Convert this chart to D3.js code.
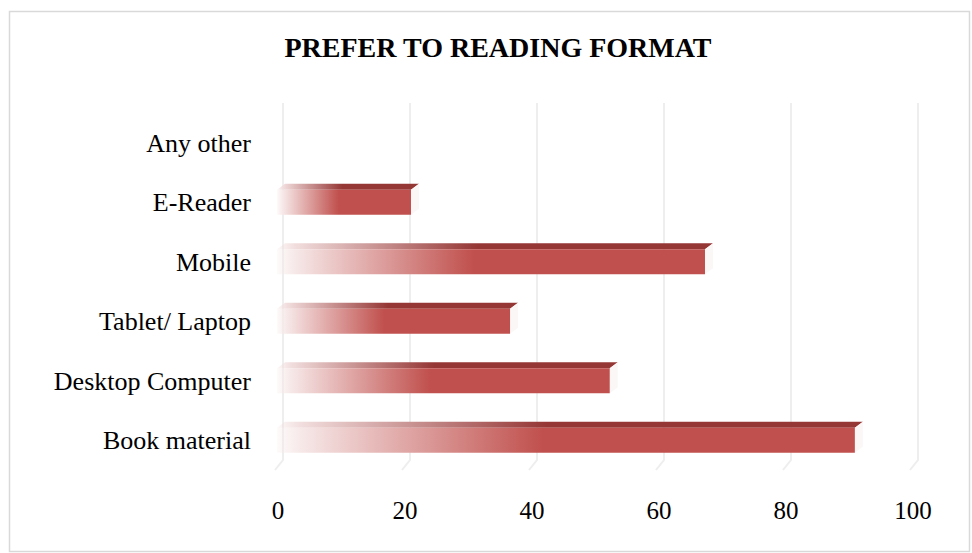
<!DOCTYPE html>
<html>
<head>
<meta charset="utf-8">
<script src="https://cdn.jsdelivr.net/npm/d3@7"></script>
<style>
  body { margin: 0; background: #fff; }
  text { font-family: "Liberation Serif", "Times New Roman", serif; fill: #000; }
</style>
</head>
<body>
<script>
// data, top to bottom as in the picture
var categories = ["Any other", "E-Reader", "Mobile", "Tablet/ Laptop", "Desktop Computer", "Book material"];
var values = [0, 21.1, 67.4, 36.7, 52.4, 91];
var ticks = [0, 20, 40, 60, 80, 100];
var title = "PREFER TO READING FORMAT";

var W = 972, H = 553;
var depth = { dx: 8, dy: -6 };

var svg = d3.select("body").append("svg")
	.attr("width", W)
	.attr("height", H);

// chart border
svg.append("rect")
	.attr("x", 9.5).attr("y", 11.5)
	.attr("width", 960).attr("height", 540)
	.attr("fill", "#fff")
	.attr("stroke", "#d9d9d9")
	.attr("stroke-width", 1.5);

svg.append("text")
	.attr("x", 498).attr("y", 57)
	.attr("text-anchor", "middle")
	.style("font-size", "28px")
	.style("font-weight", "bold")
	.text(title);

var x = d3.scaleLinear().domain([0, 100]).range([277, 912]);
var y = d3.scaleBand().domain(categories).range([113, 470]).padding(0);
var barH = y.bandwidth() * 0.42;

var defs = svg.append("defs");
function grad(id, col, light) {
	var g = defs.append("linearGradient").attr("id", id)
		.attr("x1", 0).attr("x2", 1).attr("y1", 0).attr("y2", 0);
	g.append("stop").attr("offset", 0).attr("stop-color", light).attr("stop-opacity", 0.2);
	g.append("stop").attr("offset", 0.04).attr("stop-color", light).attr("stop-opacity", 1);
	g.append("stop").attr("offset", 0.46).attr("stop-color", col);
	g.append("stop").attr("offset", 1).attr("stop-color", col);
}
grad("frontGrad", "#c0504d", "#f7e9e9");
grad("topGrad", "#953735", "#f2dede");

// gridlines with the slanted floor
svg.append("g").selectAll("path")
	.data(ticks)
	.enter().append("path")
	.attr("d", d => "M" + (x(d) + 6) + ",103L" + (x(d) + 6) + ",460L" + (x(d) - 2) + ",470")
	.attr("fill", "none")
	.attr("stroke", "#eeeeee")
	.attr("stroke-width", 2);

// tick labels
svg.append("g").selectAll("text")
	.data(ticks)
	.enter().append("text")
	.attr("x", d => x(d) + 1)
	.attr("y", 519)
	.attr("text-anchor", "middle")
	.style("font-size", "25px")
	.text(d => d);

// category labels
svg.append("g").selectAll("text")
	.data(categories)
	.enter().append("text")
	.attr("x", 251)
	.attr("y", d => y(d) + y.bandwidth() / 2 + 9)
	.attr("text-anchor", "end")
	.style("font-size", "26px")
	.text(d => d);

var bars = svg.append("g").selectAll("g")
	.data(categories.map((c, i) => ({ cat: c, val: values[i] })).filter(d => d.val > 0))
	.enter().append("g");

// top face
bars.append("path")
	.attr("d", function (d) {
		var x0 = x(0), x1 = x(d.val), t = y(d.cat) + (y.bandwidth() - barH) / 2;
		return "M" + x0 + "," + t + "L" + (x0 + depth.dx) + "," + (t + depth.dy) +
			"L" + (x1 + depth.dx) + "," + (t + depth.dy) + "L" + x1 + "," + t + "Z";
	})
	.attr("fill", "url(#topGrad)");

// right side face
bars.append("path")
	.attr("d", function (d) {
		var x1 = x(d.val), t = y(d.cat) + (y.bandwidth() - barH) / 2;
		return "M" + x1 + "," + t + "L" + (x1 + depth.dx) + "," + (t + depth.dy) +
			"L" + (x1 + depth.dx) + "," + (t + depth.dy + barH) + "L" + x1 + "," + (t + barH) + "Z";
	})
	.attr("fill", "#fbf7f7");

// front face
bars.append("rect")
	.attr("x", x(0))
	.attr("y", d => y(d.cat) + (y.bandwidth() - barH) / 2)
	.attr("width", d => x(d.val) - x(0))
	.attr("height", barH)
	.attr("fill", "url(#frontGrad)");
</script>
</body>
</html>
